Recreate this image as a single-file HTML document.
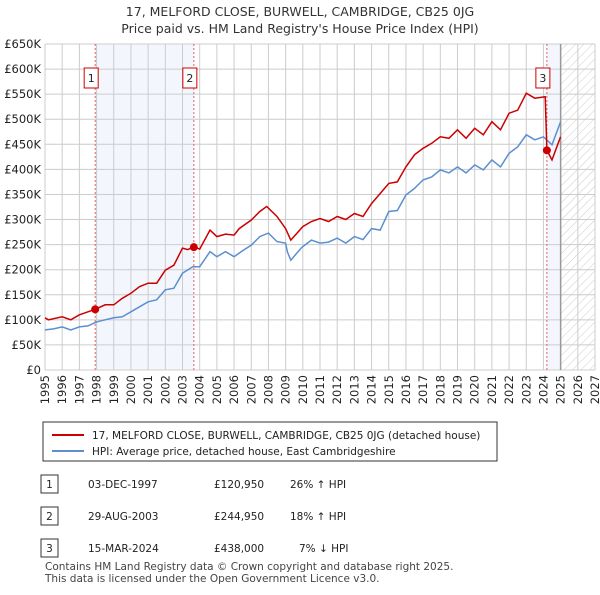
<!DOCTYPE html>
<html><head><meta charset="utf-8">
<style>
body{margin:0;background:#fff;font-family:"Liberation Sans","DejaVu Sans",sans-serif;}
svg text{font-family:"DejaVu Sans","Liberation Sans",sans-serif;}
</style></head>
<body>
<svg width="600" height="590" viewBox="0 0 600 590">
<defs>
<pattern id="hatch" width="6" height="6" patternUnits="userSpaceOnUse" patternTransform="rotate(45)">
<line x1="0" y1="0" x2="0" y2="6" stroke="#ccc" stroke-width="1"/>
</pattern>
</defs>
<text x="300" y="16" text-anchor="middle" font-size="12.5" fill="#333">17, MELFORD CLOSE, BURWELL, CAMBRIDGE, CB25 0JG</text>
<text x="300" y="33" text-anchor="middle" font-size="12.5" fill="#333">Price paid vs. HM Land Registry's House Price Index (HPI)</text>
<g id="plot"></g>
<g>
<rect x="43" y="422" width="454" height="39" fill="#fff" stroke="#333" stroke-width="1"/>
<line x1="52" y1="435" x2="84" y2="435" stroke="#cc0000" stroke-width="2"/>
<text x="92" y="439" font-size="10.5" fill="#222">17, MELFORD CLOSE, BURWELL, CAMBRIDGE, CB25 0JG (detached house)</text>
<line x1="52" y1="451" x2="84" y2="451" stroke="#5b8fd0" stroke-width="2"/>
<text x="92" y="455" font-size="10.5" fill="#222">HPI: Average price, detached house, East Cambridgeshire</text>
</g>
<g font-size="10.5" fill="#222">
<rect x="41" y="475" width="17" height="18" fill="#fff" stroke="#333"/><text x="49.5" y="488" text-anchor="middle">1</text>
<text x="88" y="488">03-DEC-1997</text><text x="214" y="488">£120,950</text><text x="290" y="488">26% ↑ HPI</text>
<rect x="41" y="507" width="17" height="18" fill="#fff" stroke="#333"/><text x="49.5" y="520" text-anchor="middle">2</text>
<text x="88" y="520">29-AUG-2003</text><text x="214" y="520">£244,950</text><text x="290" y="520">18% ↑ HPI</text>
<rect x="41" y="539" width="17" height="18" fill="#fff" stroke="#333"/><text x="49.5" y="552" text-anchor="middle">3</text>
<text x="88" y="552">15-MAR-2024</text><text x="214" y="552">£438,000</text><text x="299" y="552">7% ↓ HPI</text>
</g>
<text x="45" y="570" font-size="10.5" fill="#444">Contains HM Land Registry data © Crown copyright and database right 2025.</text>
<text x="45" y="582" font-size="10.5" fill="#444">This data is licensed under the Open Government Licence v3.0.</text>
</svg>
<script>
const yTicks=[0,50,100,150,200,250,300,350,400,450,500,550,600,650];
const yTickLabels=["£0","£50K","£100K","£150K","£200K","£250K","£300K","£350K","£400K","£450K","£500K","£550K","£600K","£650K"];
const xYears=[1995,1996,1997,1998,1999,2000,2001,2002,2003,2004,2005,2006,2007,2008,2009,2010,2011,2012,2013,2014,2015,2016,2017,2018,2019,2020,2021,2022,2023,2024,2025,2026,2027];
const hpiT=[1995,1995.5,1996,1996.5,1997,1997.5,1998,1998.5,1999,1999.5,2000,2000.5,2001,2001.5,2002,2002.5,2003,2003.6,2004,2004.6,2005,2005.5,2006,2006.5,2007,2007.5,2008,2008.5,2009,2009.1,2009.3,2009.9,2010,2010.5,2011,2011.5,2012,2012.5,2013,2013.5,2014,2014.5,2015,2015.5,2016,2016.5,2017,2017.5,2018,2018.5,2019,2019.5,2020,2020.5,2021,2021.5,2022,2022.5,2023,2023.5,2024,2024.5,2025];
const hpiV=[80,82,86,80,86,88,96,100,104,106,116,126,136,140,160,163,193,206,206,236,226,236,226,238,249,266,273,256,253,236,219,243,246,259,253,255,263,253,266,260,282,279,316,318,349,362,379,385,399,393,405,393,409,399,419,405,432,445,469,459,465,449,495];
const ppT=[1995,1995.2,1996,1996.5,1997,1997.92,1998.5,1999,1999.5,2000,2000.5,2001,2001.5,2002,2002.5,2003,2003.3,2003.66,2004,2004.6,2005,2005.5,2006,2006.3,2007,2007.5,2007.9,2008.5,2009,2009.3,2010,2010.5,2011,2011.5,2012,2012.5,2013,2013.5,2014,2014.5,2015,2015.5,2016,2016.5,2017,2017.5,2018,2018.5,2019,2019.5,2020,2020.5,2021,2021.5,2022,2022.5,2023,2023.5,2024.1,2024.2,2024.5,2025];
const ppV=[104,100,106,100,110,121,130,130,143,153,166,173,173,199,209,243,240,245,241,279,266,271,269,282,299,316,326,306,282,259,286,296,302,296,306,300,312,306,332,352,372,375,405,429,442,452,465,462,479,462,482,469,495,479,512,518,552,542,545,438,419,465];
const saleT=[1997.92,2003.66,2024.2];
const saleV=[120.95,244.95,438];
const saleLabels=["1","2","3"];

const NS="http://www.w3.org/2000/svg";
const L=45,R=595,T=44,B=370,y0=1995,y1=2027,vMax=650;
const X=t=>L+(t-y0)/(y1-y0)*(R-L);
const Y=v=>B-v/vMax*(B-T);
const g=document.getElementById('plot');
function mk(tag,attrs){const e=document.createElementNS(NS,tag);for(const k in attrs)e.setAttribute(k,attrs[k]);g.appendChild(e);return e;}

let e;
e=mk('rect',{x:X(saleT[0]),y:T,width:X(saleT[1])-X(saleT[0]),height:B-T,fill:'#eef3fc',opacity:0.7});


e=mk('rect',{x:X(saleT[2]),y:T,width:X(2025)-X(saleT[2]),height:B-T,fill:'#eef3fc',opacity:0.7});


e=mk('rect',{x:X(2025),y:T,width:R-X(2025),height:B-T,fill:'url(#hatch)'});



yTicks.forEach((v,i)=>{
  e=mk('line',{x1:L,x2:R,y1:Y(v),y2:Y(v),stroke:'#ccc','stroke-width':1});
  
  
  e=mk('text',{x:L-4,y:Y(v)+4,'text-anchor':'end','font-size':11.5,fill:'#222'});
  e.textContent=yTickLabels[i];
  
  
});
xYears.forEach(t=>{
  e=mk('line',{x1:X(t),x2:X(t),y1:T,y2:B,stroke:'#ccc','stroke-width':1});
  
  
  e=mk('text',{x:0,y:0,'text-anchor':'end','font-size':11.5,fill:'#222',transform:`translate(${X(t)+4},${B+5}) rotate(-90)`});
  e.textContent=t;
  
  
});
e=mk('line',{x1:X(2025),x2:X(2025),y1:T,y2:B,stroke:'#999','stroke-width':1.5});



saleT.forEach((t,i)=>{
  e=mk('line',{x1:X(t),x2:X(t),y1:T,y2:B,stroke:'#e06060','stroke-width':1,'stroke-dasharray':'2,2'});
  
  
});

function path(ts,vs){return ts.map((t,i)=>(i?'L':'M')+X(t).toFixed(1)+','+Y(vs[i]).toFixed(1)).join('');}
e=mk('path',{d:path(hpiT,hpiV),fill:'none',stroke:'#5b8fd0','stroke-width':1.5});


e=mk('path',{d:path(ppT,ppV),fill:'none',stroke:'#cc0000','stroke-width':1.5});



saleT.forEach((t,i)=>{
  e=mk('circle',{cx:X(t),cy:Y(saleV[i]),r:4,fill:'#cc0000'});
  
  
  const bx=X(t)-4;
  e=mk('rect',{x:bx-7,y:68,width:14,height:20,fill:'#fff',stroke:'#cc0000','stroke-width':1});
  
  
  e=mk('text',{x:bx,y:82,'text-anchor':'middle','font-size':11,fill:'#222'});
  e.textContent=saleLabels[i];
  
  
});
</script>
</body></html>
